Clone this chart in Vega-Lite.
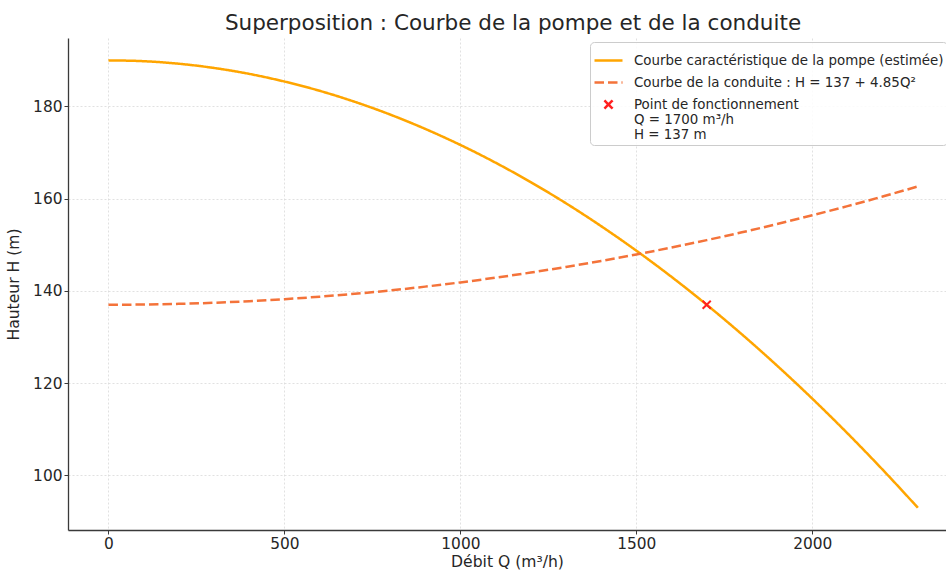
{
  "$schema": "https://vega.github.io/schema/vega-lite/v6.json",
  "width": 878,
  "height": 492,
  "autosize": {"type": "none"},
  "padding": {"left": 68, "top": 38, "right": 0, "bottom": 42},
  "background": "white",
  "title": {"text": "Superposition : Courbe de la pompe et de la conduite", "fontSize": 21.5, "fontWeight": "normal", "font": "DejaVu Sans", "color": "#262626", "dx": 6, "offset": 4},
  "config": {
    "view": {"stroke": null},
    "font": "DejaVu Sans",
    "axis": {"domainColor": "#3a3a3a", "domainWidth": 1.3, "tickColor": "#3a3a3a", "tickSize": 4, "labelFontSize": 15.4, "labelColor": "#262626", "labelFont": "DejaVu Sans", "titleFont": "DejaVu Sans", "titleFontSize": 15.6, "titleFontWeight": "normal", "titleColor": "#262626", "gridColor": "#d9d9d9", "gridDash": [2, 2], "gridWidth": 0.8, "labelPadding": 2}
  },
  "datasets": {
    "courbes": [
      {"Q": 0, "H": 190.0, "serie": "Courbe caractéristique de la pompe (estimée)"},
      {"Q": 100, "H": 189.82, "serie": "Courbe caractéristique de la pompe (estimée)"},
      {"Q": 200, "H": 189.27, "serie": "Courbe caractéristique de la pompe (estimée)"},
      {"Q": 300, "H": 188.35, "serie": "Courbe caractéristique de la pompe (estimée)"},
      {"Q": 400, "H": 187.07, "serie": "Courbe caractéristique de la pompe (estimée)"},
      {"Q": 500, "H": 185.41, "serie": "Courbe caractéristique de la pompe (estimée)"},
      {"Q": 600, "H": 183.40, "serie": "Courbe caractéristique de la pompe (estimée)"},
      {"Q": 700, "H": 181.01, "serie": "Courbe caractéristique de la pompe (estimée)"},
      {"Q": 800, "H": 178.26, "serie": "Courbe caractéristique de la pompe (estimée)"},
      {"Q": 900, "H": 175.14, "serie": "Courbe caractéristique de la pompe (estimée)"},
      {"Q": 1000, "H": 171.66, "serie": "Courbe caractéristique de la pompe (estimée)"},
      {"Q": 1100, "H": 167.81, "serie": "Courbe caractéristique de la pompe (estimée)"},
      {"Q": 1200, "H": 163.59, "serie": "Courbe caractéristique de la pompe (estimée)"},
      {"Q": 1300, "H": 159.01, "serie": "Courbe caractéristique de la pompe (estimée)"},
      {"Q": 1400, "H": 154.05, "serie": "Courbe caractéristique de la pompe (estimée)"},
      {"Q": 1500, "H": 148.73, "serie": "Courbe caractéristique de la pompe (estimée)"},
      {"Q": 1600, "H": 143.05, "serie": "Courbe caractéristique de la pompe (estimée)"},
      {"Q": 1700, "H": 137.0, "serie": "Courbe caractéristique de la pompe (estimée)"},
      {"Q": 1800, "H": 130.58, "serie": "Courbe caractéristique de la pompe (estimée)"},
      {"Q": 1900, "H": 123.79, "serie": "Courbe caractéristique de la pompe (estimée)"},
      {"Q": 2000, "H": 116.64, "serie": "Courbe caractéristique de la pompe (estimée)"},
      {"Q": 2100, "H": 109.12, "serie": "Courbe caractéristique de la pompe (estimée)"},
      {"Q": 2200, "H": 101.23, "serie": "Courbe caractéristique de la pompe (estimée)"},
      {"Q": 2300, "H": 92.98, "serie": "Courbe caractéristique de la pompe (estimée)"},
      {"Q": 0, "H": 137.0, "serie": "Courbe de la conduite : H = 137 + 4.85Q²"},
      {"Q": 100, "H": 137.05, "serie": "Courbe de la conduite : H = 137 + 4.85Q²"},
      {"Q": 200, "H": 137.19, "serie": "Courbe de la conduite : H = 137 + 4.85Q²"},
      {"Q": 300, "H": 137.44, "serie": "Courbe de la conduite : H = 137 + 4.85Q²"},
      {"Q": 400, "H": 137.78, "serie": "Courbe de la conduite : H = 137 + 4.85Q²"},
      {"Q": 500, "H": 138.21, "serie": "Courbe de la conduite : H = 137 + 4.85Q²"},
      {"Q": 600, "H": 138.75, "serie": "Courbe de la conduite : H = 137 + 4.85Q²"},
      {"Q": 700, "H": 139.38, "serie": "Courbe de la conduite : H = 137 + 4.85Q²"},
      {"Q": 800, "H": 140.10, "serie": "Courbe de la conduite : H = 137 + 4.85Q²"},
      {"Q": 900, "H": 140.93, "serie": "Courbe de la conduite : H = 137 + 4.85Q²"},
      {"Q": 1000, "H": 141.85, "serie": "Courbe de la conduite : H = 137 + 4.85Q²"},
      {"Q": 1100, "H": 142.87, "serie": "Courbe de la conduite : H = 137 + 4.85Q²"},
      {"Q": 1200, "H": 143.98, "serie": "Courbe de la conduite : H = 137 + 4.85Q²"},
      {"Q": 1300, "H": 145.20, "serie": "Courbe de la conduite : H = 137 + 4.85Q²"},
      {"Q": 1400, "H": 146.51, "serie": "Courbe de la conduite : H = 137 + 4.85Q²"},
      {"Q": 1500, "H": 147.91, "serie": "Courbe de la conduite : H = 137 + 4.85Q²"},
      {"Q": 1600, "H": 149.42, "serie": "Courbe de la conduite : H = 137 + 4.85Q²"},
      {"Q": 1700, "H": 151.02, "serie": "Courbe de la conduite : H = 137 + 4.85Q²"},
      {"Q": 1800, "H": 152.71, "serie": "Courbe de la conduite : H = 137 + 4.85Q²"},
      {"Q": 1900, "H": 154.51, "serie": "Courbe de la conduite : H = 137 + 4.85Q²"},
      {"Q": 2000, "H": 156.40, "serie": "Courbe de la conduite : H = 137 + 4.85Q²"},
      {"Q": 2100, "H": 158.39, "serie": "Courbe de la conduite : H = 137 + 4.85Q²"},
      {"Q": 2200, "H": 160.47, "serie": "Courbe de la conduite : H = 137 + 4.85Q²"},
      {"Q": 2300, "H": 162.66, "serie": "Courbe de la conduite : H = 137 + 4.85Q²"}
    ],
    "point": [
      {"Q": 1700, "H": 137, "serie": "Point de fonctionnement|Q = 1700 m³/h|H = 137 m"}
    ]
  },
  "layer": [
    {
      "data": {"name": "courbes"},
      "mark": {"type": "line", "strokeWidth": 2.5, "interpolate": "monotone"},
      "encoding": {
        "x": {"field": "Q", "type": "quantitative", "scale": {"domain": [-115, 2380], "nice": false, "zero": false}, "axis": {"values": [0, 500, 1000, 1500, 2000], "format": "d", "title": "Débit Q (m³/h)", "titlePadding": 3, "grid": true}},
        "y": {"field": "H", "type": "quantitative", "scale": {"domain": [88.15, 194.85], "nice": false, "zero": false}, "axis": {"values": [100, 120, 140, 160, 180], "format": "d", "title": "Hauteur H (m)", "titlePadding": 11, "grid": true}},
        "color": {
          "field": "serie", "type": "nominal",
          "scale": {"domain": ["Courbe caractéristique de la pompe (estimée)", "Courbe de la conduite : H = 137 + 4.85Q²", "Point de fonctionnement|Q = 1700 m³/h|H = 137 m"], "range": ["#ffa500", "#f4733a", "#ff2020"]},
          "legend": {
            "title": null,
            "orient": "none",
            "legendX": 522,
            "legendY": 4,
            "labelExpr": "split(datum.label, '|')",
            "labelFontSize": 13.4,
            "labelFont": "DejaVu Sans",
            "labelColor": "#262626",
            "labelLimit": 0,
            "labelOffset": 10,
            "rowPadding": -4,
            "padding": 3,
            "strokeColor": "#cccccc",
            "fillColor": "rgba(255,255,255,0.85)",
            "cornerRadius": 4,
            "symbolSize": 784,
            "symbolStrokeWidth": 2.5
          }
        },
        "strokeDash": {
          "field": "serie", "type": "nominal",
          "scale": {"domain": ["Courbe caractéristique de la pompe (estimée)", "Courbe de la conduite : H = 137 + 4.85Q²", "Point de fonctionnement|Q = 1700 m³/h|H = 137 m"], "range": [[1, 0], [9.5, 4], [1, 0]]},
          "legend": {"title": null}
        }
      }
    },
    {
      "data": {"name": "point"},
      "mark": {"type": "point", "size": 784, "strokeWidth": 2, "filled": false, "opacity": 1},
      "encoding": {
        "x": {"field": "Q", "type": "quantitative"},
        "y": {"field": "H", "type": "quantitative"},
        "color": {"field": "serie", "type": "nominal"},
        "shape": {
          "field": "serie", "type": "nominal",
          "scale": {"domain": ["Courbe caractéristique de la pompe (estimée)", "Courbe de la conduite : H = 137 + 4.85Q²", "Point de fonctionnement|Q = 1700 m³/h|H = 137 m"], "range": ["stroke", "stroke", "M-0.29,-0.29L0.29,0.29M-0.29,0.29L0.29,-0.29"]},
          "legend": {"title": null}
        }
      }
    }
  ]
}
